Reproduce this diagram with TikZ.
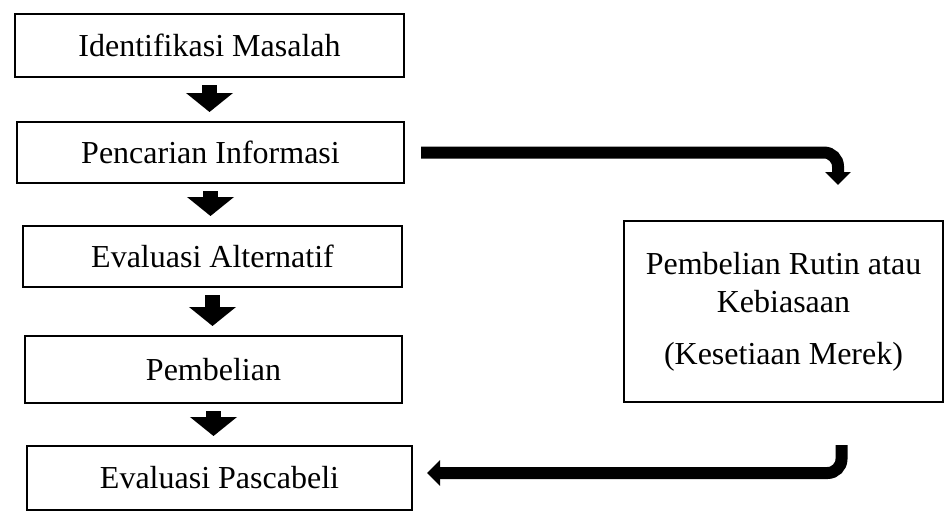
\documentclass[tikz,border=0pt]{standalone}
\usepackage{fontspec}
\setmainfont{Liberation Serif}
\usepackage{tikz}
\usetikzlibrary{arrows.meta, positioning}
\tikzstyle{stage} = [rectangle, draw=black, line width=2.4pt, outer sep=0pt, minimum width=380pt,
                     minimum height=62pt, text centered, font=\fontsize{32}{38}\selectfont]
\tikzstyle{down} = [-{Triangle[width=46pt, length=19pt]}, line width=15pt,
                    shorten <=8pt, shorten >=10pt]
\tikzstyle{bent} = [-{Triangle[width=25pt, length=13pt]}, line width=12pt, rounded corners=14pt]

\begin{document}
\begin{tikzpicture}[x=1pt, y=-1pt]
    \useasboundingbox (0,0) rectangle (945,512);
    % Stages
    \node[stage, minimum width=389pt, minimum height=63pt] (ident) at (209.5,45.5) {Identifikasi Masalah};
    \node[stage, below=45pt of ident, xshift=1pt, minimum width=387pt, minimum height=61pt] (cari) {Pencarian Informasi};
    \node[stage, below=43pt of cari, xshift=2pt, minimum width=379pt, minimum height=61pt] (eval) {Evaluasi Alternatif};
    \node[stage, below=49pt of eval, xshift=1pt, minimum width=377pt, minimum height=67pt] (beli) {Pembelian};
    \node[stage, below=43pt of beli, xshift=6pt, minimum width=385pt, minimum height=64pt] (pasca) {Evaluasi Pascabeli};
    \node[stage, align=center, minimum width=319pt, minimum height=181pt] (rutin) at (783.5,311.5)
        {Pembelian Rutin atau\\Kebiasaan\\[14pt](Kesetiaan Merek)};

    % Arrows
    \draw[down] (ident.south) -- (ident.south |- cari.north);
    \draw[down] (cari.south) -- (cari.south |- eval.north);
    \draw[down] (eval.south) -- (eval.south |- beli.north);
    \draw[down] (beli.south) -- (beli.south |- pasca.north);

    \coordinate (tip) at (838,185);
    \coordinate (back) at (841.5,445);
    \draw[bent, shorten <=17pt] (cari.east) -| (tip);
    \draw[bent, shorten >=15pt] (back) |- ([yshift=5pt]pasca.east);
\end{tikzpicture}
\end{document}
